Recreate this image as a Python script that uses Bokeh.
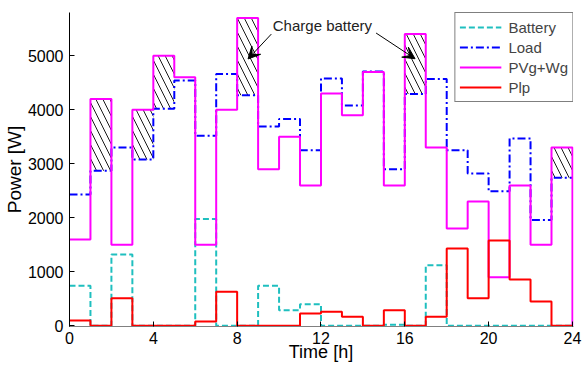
from bokeh.plotting import figure
from bokeh.models import (Range1d, Legend, LegendItem, Label, Arrow, VeeHead, FixedTicker,
                          LinearAxis)
from bokeh.embed import file_html
from bokeh.resources import INLINE

# ---- data ----
hours = list(range(24))
battery = [740, 0, 1320, 0, 0, 0, 1980, 0, 0, 740, 290, 400,
           0, 0, 0, 20, 0, 1120, 0, 0, 0, 0, 0, 0]
load = [2430, 2870, 3300, 3080, 4020, 4540, 3520, 4660, 4270, 3690, 3830, 3250,
        4580, 4080, 4710, 2900, 4290, 4570, 3250, 2820, 2490, 3470, 1960, 2740]
pv_wg = [1600, 4200, 1500, 4000, 5000, 4600, 1500, 4000, 5700, 2900, 3500, 2600,
         4300, 3900, 4700, 2600, 5400, 3300, 1800, 2300, 900, 2600, 1500, 3300]
plp = [100, 0, 510, 0, 0, 0, 80, 630, 0, 0, 0, 230,
       260, 170, 0, 290, 0, 170, 1430, 510, 1580, 860, 450, 0]
charge_hours = [1, 3, 4, 8, 16, 23]
x_ticks = [0, 4, 8, 12, 16, 20, 24]
y_ticks = [0, 1000, 2000, 3000, 4000, 5000]

FONT = "Liberation Sans"
Y0, Y1 = -12, 5800

p = figure(width=582, height=365, output_backend="svg", toolbar_location=None,
           x_range=Range1d(0, 24.05), y_range=Range1d(Y0, Y1),
           min_border_left=68, min_border_right=9, min_border_top=12, min_border_bottom=39)
p.outline_line_color = None
p.grid.visible = False
p.background_fill_color = "white"

# hatched charging regions
xs_end = hours + [24]
cl = list(charge_hours)
p.quad(left=cl, right=[h + 1 for h in cl],
       bottom=[load[h] for h in cl], top=[pv_wg[h] for h in cl],
       fill_alpha=0, line_alpha=0, hatch_pattern="\\", hatch_color="black",
       hatch_weight=0.9, hatch_scale=14)

r_bat = p.step(xs_end, battery + [battery[-1]], mode="after", line_color="#1fbfbf",
               line_width=2, line_dash="6 3")
r_load = p.step(xs_end, load + [load[-1]], mode="after", line_color="#0000ff",
                line_width=2, line_dash="8 3 2 3")
r_pv = p.step(xs_end, pv_wg + [0], mode="after", line_color="#ff00ff", line_width=2)
r_plp = p.step(xs_end, plp + [plp[-1]], mode="after", line_color="#ff0000", line_width=2)

# annotation
p.add_layout(Label(x=9.7, y=5555, text="Charge battery", text_font=FONT,
                   text_font_size="15px", text_baseline="middle", text_align="left",
                   text_color="#222222"))
for xs, ys, xe, ye in [(9.63, 5400, 8.52, 4940), (14.63, 5420, 16.49, 4944)]:
    p.add_layout(Arrow(x_start=xs, y_start=ys, x_end=xe, y_end=ye, line_width=1,
                       line_color="black",
                       end=VeeHead(size=12, fill_color="black", line_color="black")))

# axes
p.xaxis.ticker = FixedTicker(ticks=x_ticks)
p.yaxis.ticker = FixedTicker(ticks=y_ticks)
p.xaxis.minor_tick_line_color = None
p.yaxis.minor_tick_line_color = None
for ax in (p.xaxis, p.yaxis):
    ax.major_tick_in = 5
    ax.major_tick_out = 0
    ax.major_label_text_font = FONT
    ax.major_label_text_font_size = "16px"
    ax.major_label_text_color = "black"
    ax.axis_label_text_font = FONT
    ax.axis_label_text_font_style = "normal"
    ax.axis_label_text_color = "black"
    ax.major_tick_line_color = "black"
p.xaxis.axis_line_color = "#808080"
p.yaxis.axis_line_color = "black"
p.yaxis.axis_label = "Power [W]"
p.yaxis.axis_label_text_font_size = "19px"
p.xaxis.major_label_standoff = 5
p.yaxis.major_label_standoff = 6
p.yaxis.axis_label_standoff = 0

# x-axis title, drawn as a second (line-less) axis just under the tick labels
title_axis = LinearAxis(ticker=FixedTicker(ticks=[12]),
                        major_label_overrides={12: "Time [h]"},
                        axis_line_color=None, major_tick_line_color=None,
                        minor_tick_line_color=None, major_tick_in=0, major_tick_out=0,
                        major_label_standoff=-5, major_label_text_font=FONT,
                        major_label_text_font_size="18px", major_label_text_color="black")
p.add_layout(title_axis, "below")

legend = Legend(items=[LegendItem(label="Battery", renderers=[r_bat]),
                       LegendItem(label="Load", renderers=[r_load]),
                       LegendItem(label="PVg+Wg", renderers=[r_pv]),
                       LegendItem(label="Plp", renderers=[r_plp])],
                location="top_right", margin=0, padding=4, spacing=0,
                label_height=20, glyph_height=20, glyph_width=42, label_standoff=7,
                label_text_font=FONT, label_text_font_size="15px",
                border_line_color="black", border_line_width=1,
                background_fill_alpha=1)
p.add_layout(legend, "center")

open("out.html", "w").write(file_html(p, INLINE))
